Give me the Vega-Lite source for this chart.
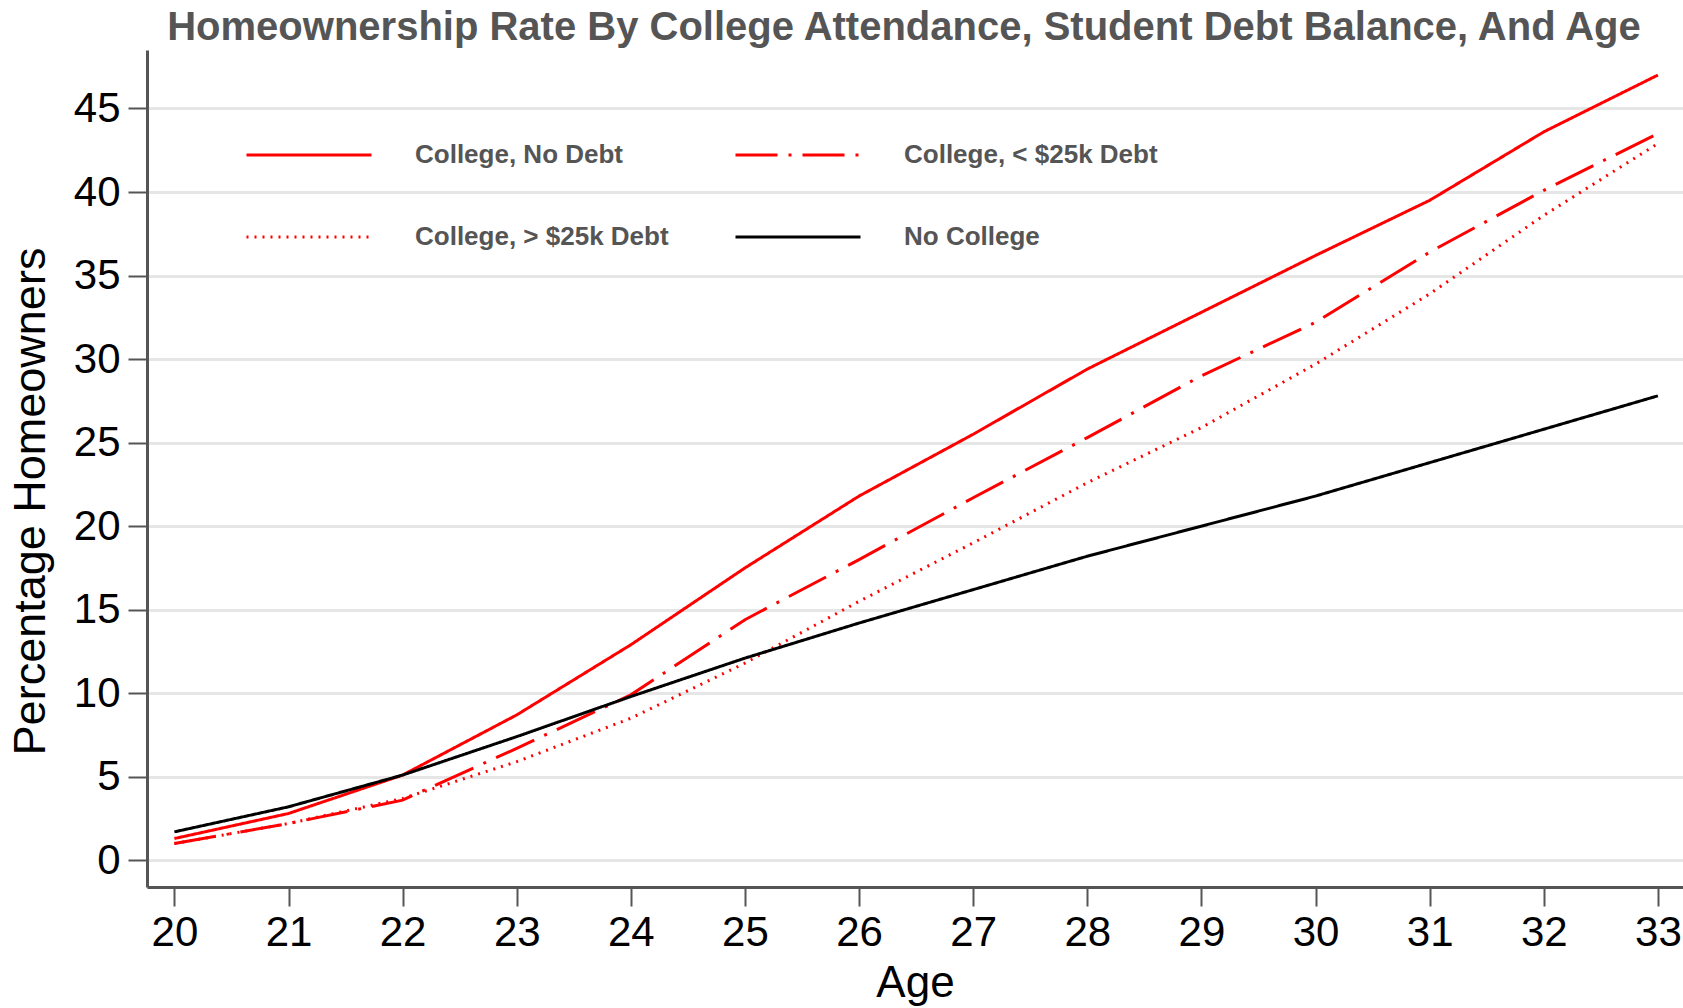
{
  "$schema": "https://vega.github.io/schema/vega-lite/v6.json",
  "width": 1536,
  "height": 837,
  "autosize": {"type": "none"},
  "padding": {"left": 147, "top": 50, "right": 0, "bottom": 121},
  "background": "white",
  "title": {
    "text": "Homeownership Rate By College Attendance, Student Debt Balance, And Age",
    "font": "Liberation Sans",
    "fontWeight": "bold",
    "fontSize": 40,
    "color": "#555555",
    "anchor": "middle",
    "offset": 2,
    "dx": -11
  },
  "config": {
    "view": {"stroke": null},
    "font": "Liberation Sans",
    "axis": {
      "domainColor": "#555555",
      "domainWidth": 3,
      "tickColor": "#555555",
      "tickWidth": 2,
      "tickSize": 19,
      "labelColor": "#000000",
      "labelFont": "Liberation Sans",
      "labelFontSize": 42,
      "titleFont": "Liberation Sans",
      "titleFontWeight": "normal",
      "titleColor": "#000000",
      "titleFontSize": 44
    }
  },
  "data": {
    "values": [
      {"age": 20, "group": "College, No Debt", "pct": 1.3},
      {"age": 21, "group": "College, No Debt", "pct": 2.8},
      {"age": 22, "group": "College, No Debt", "pct": 5.1},
      {"age": 23, "group": "College, No Debt", "pct": 8.7},
      {"age": 24, "group": "College, No Debt", "pct": 12.9},
      {"age": 25, "group": "College, No Debt", "pct": 17.5},
      {"age": 26, "group": "College, No Debt", "pct": 21.8},
      {"age": 27, "group": "College, No Debt", "pct": 25.5},
      {"age": 28, "group": "College, No Debt", "pct": 29.4},
      {"age": 29, "group": "College, No Debt", "pct": 32.8},
      {"age": 30, "group": "College, No Debt", "pct": 36.2},
      {"age": 31, "group": "College, No Debt", "pct": 39.5},
      {"age": 32, "group": "College, No Debt", "pct": 43.6},
      {"age": 33, "group": "College, No Debt", "pct": 47.0},
      {"age": 20, "group": "College, < $25k Debt", "pct": 1.0},
      {"age": 21, "group": "College, < $25k Debt", "pct": 2.2},
      {"age": 22, "group": "College, < $25k Debt", "pct": 3.6},
      {"age": 23, "group": "College, < $25k Debt", "pct": 6.7},
      {"age": 24, "group": "College, < $25k Debt", "pct": 9.9},
      {"age": 25, "group": "College, < $25k Debt", "pct": 14.4},
      {"age": 26, "group": "College, < $25k Debt", "pct": 18.0},
      {"age": 27, "group": "College, < $25k Debt", "pct": 21.7},
      {"age": 28, "group": "College, < $25k Debt", "pct": 25.3},
      {"age": 29, "group": "College, < $25k Debt", "pct": 29.0},
      {"age": 30, "group": "College, < $25k Debt", "pct": 32.2},
      {"age": 31, "group": "College, < $25k Debt", "pct": 36.4},
      {"age": 32, "group": "College, < $25k Debt", "pct": 40.1},
      {"age": 33, "group": "College, < $25k Debt", "pct": 43.5},
      {"age": 20, "group": "College, > $25k Debt", "pct": 1.0},
      {"age": 21, "group": "College, > $25k Debt", "pct": 2.2},
      {"age": 22, "group": "College, > $25k Debt", "pct": 3.7},
      {"age": 23, "group": "College, > $25k Debt", "pct": 5.9},
      {"age": 24, "group": "College, > $25k Debt", "pct": 8.5},
      {"age": 25, "group": "College, > $25k Debt", "pct": 11.8},
      {"age": 26, "group": "College, > $25k Debt", "pct": 15.5},
      {"age": 27, "group": "College, > $25k Debt", "pct": 19.0},
      {"age": 28, "group": "College, > $25k Debt", "pct": 22.6},
      {"age": 29, "group": "College, > $25k Debt", "pct": 25.9},
      {"age": 30, "group": "College, > $25k Debt", "pct": 29.7},
      {"age": 31, "group": "College, > $25k Debt", "pct": 33.9},
      {"age": 32, "group": "College, > $25k Debt", "pct": 38.6},
      {"age": 33, "group": "College, > $25k Debt", "pct": 42.9},
      {"age": 20, "group": "No College", "pct": 1.7},
      {"age": 21, "group": "No College", "pct": 3.2},
      {"age": 22, "group": "No College", "pct": 5.1},
      {"age": 23, "group": "No College", "pct": 7.4},
      {"age": 24, "group": "No College", "pct": 9.8},
      {"age": 25, "group": "No College", "pct": 12.1},
      {"age": 26, "group": "No College", "pct": 14.2},
      {"age": 27, "group": "No College", "pct": 16.2},
      {"age": 28, "group": "No College", "pct": 18.2},
      {"age": 29, "group": "No College", "pct": 20.0},
      {"age": 30, "group": "No College", "pct": 21.8},
      {"age": 31, "group": "No College", "pct": 23.8},
      {"age": 32, "group": "No College", "pct": 25.8},
      {"age": 33, "group": "No College", "pct": 27.8}
    ]
  },
  "mark": {"type": "line", "strokeWidth": 3, "clip": false},
  "encoding": {
    "x": {
      "field": "age",
      "type": "quantitative",
      "title": "Age",
      "scale": {"domain": [19.76, 33.22], "nice": false, "zero": false},
      "axis": {
        "values": [20, 21, 22, 23, 24, 25, 26, 27, 28, 29, 30, 31, 32, 33],
        "grid": false,
        "labelPadding": 6,
        "titlePadding": 8,
        "labelFlush": false
      }
    },
    "y": {
      "field": "pct",
      "type": "quantitative",
      "title": "Percentage Homeowners",
      "scale": {"domain": [-1.6, 48.5], "nice": false, "zero": false},
      "axis": {
        "values": [0, 5, 10, 15, 20, 25, 30, 35, 40, 45],
        "grid": true,
        "gridColor": "#e6e6e6",
        "gridWidth": 3,
        "labelPadding": 8,
        "titlePadding": 20,
        "titleFontSize": 45,
        "titleY": 451
      }
    },
    "color": {
      "field": "group",
      "type": "nominal",
      "title": null,
      "sort": ["College, No Debt", "College, < $25k Debt", "College, > $25k Debt", "No College"],
      "scale": {
        "domain": ["College, No Debt", "College, < $25k Debt", "College, > $25k Debt", "No College"],
        "range": ["#ff0000", "#ff0000", "#ff0000", "#000000"]
      },
      "legend": {
        "orient": "none",
        "direction": "horizontal",
        "legendX": 98,
        "legendY": 41,
        "columns": 2,
        "padding": 0,
        "columnPadding": 60,
        "rowPadding": 5,
        "symbolType": "stroke",
        "symbolSize": 15625,
        "symbolStrokeWidth": 3,
        "labelOffset": 42,
        "labelFont": "Liberation Sans",
        "labelFontWeight": "bold",
        "labelFontSize": 26,
        "labelColor": "#555555",
        "labelLimit": 400
      }
    },
    "strokeDash": {
      "field": "group",
      "type": "nominal",
      "title": null,
      "sort": ["College, No Debt", "College, < $25k Debt", "College, > $25k Debt", "No College"],
      "scale": {
        "domain": ["College, No Debt", "College, < $25k Debt", "College, > $25k Debt", "No College"],
        "range": [[1, 0], [42, 11, 3, 11], [2, 6], [1, 0]]
      }
    }
  }
}
